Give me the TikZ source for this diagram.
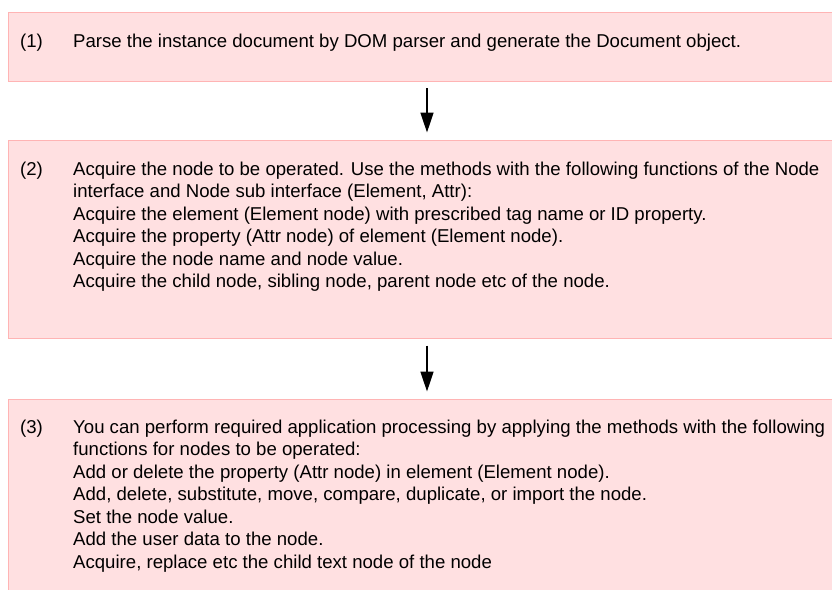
\documentclass[tikz,border=0pt]{standalone}
\usepackage{fontspec}
\setmainfont{Liberation Sans}
\usetikzlibrary{arrows.meta}
\definecolor{boxfill}{HTML}{FFE0E1}
\definecolor{boxline}{HTML}{FFB4B4}
\tikzset{
    stepbox/.style={draw=boxline, fill=boxfill, line width=1pt},
    numtext/.style={anchor=base west, inner sep=0pt, font=\fontsize{18.6}{22.5}\selectfont},
    bodytext/.style={anchor=base west, inner sep=0pt, align=left, font=\fontsize{18.6}{22.5}\selectfont},
    flow/.style={-{Triangle[length=20pt, width=13pt]}, line width=1.7pt, shorten <=7pt, shorten >=8pt}
}
\begin{document}
\begin{tikzpicture}[x=1pt, y=-1pt]
                \useasboundingbox (0,0) rectangle (832,589);
                \clip (0,0) rectangle (832,589);
                % boxes
                \draw[stepbox] (8.5,12.5) rectangle (845,81);
                \draw[stepbox] (8.5,140.5) rectangle (845,338.5);
                \draw[stepbox] (8.5,399.5) rectangle (845,600);
                \coordinate (b1s) at (427,81);
                \coordinate (b2n) at (427,140.5);
                \coordinate (b2s) at (427,338.5);
                \coordinate (b3n) at (427,399.5);
                % step (1), base of last line
                \node[numtext] (n1) at (20,47) {(1)};
                \node[bodytext] (t1) at (73,47) {Parse the instance document by DOM parser and generate the Document object.};
                % step (2)
                \node[numtext] (n2) at (20,175) {(2)};
                \node[bodytext] (t2) at (73,287.5) {Acquire the node to be operated. Use the methods with the following functions of the Node\\
                        interface and Node sub interface (Element, Attr):\\
                        Acquire the element (Element node) with prescribed tag name or ID property.\\
                        Acquire the property (Attr node) of element (Element node).\\
                        Acquire the node name and node value.\\
                        Acquire the child node, sibling node, parent node etc of the node.};
                % step (3)
                \node[numtext] (n3) at (20,433) {(3)};
                \node[bodytext] (t3) at (73,568) {You can perform required application processing by applying the methods with the following\\
                        functions for nodes to be operated:\\
                        Add or delete the property (Attr node) in element (Element node).\\
                        Add, delete, substitute, move, compare, duplicate, or import the node.\\
                        Set the node value.\\
                        Add the user data to the node.\\
                        Acquire, replace etc the child text node of the node};
                % arrows
                \draw[flow] (b1s) -- (b2n);
                \draw[flow] (b2s) -- (b3n);
\end{tikzpicture}
\end{document}
